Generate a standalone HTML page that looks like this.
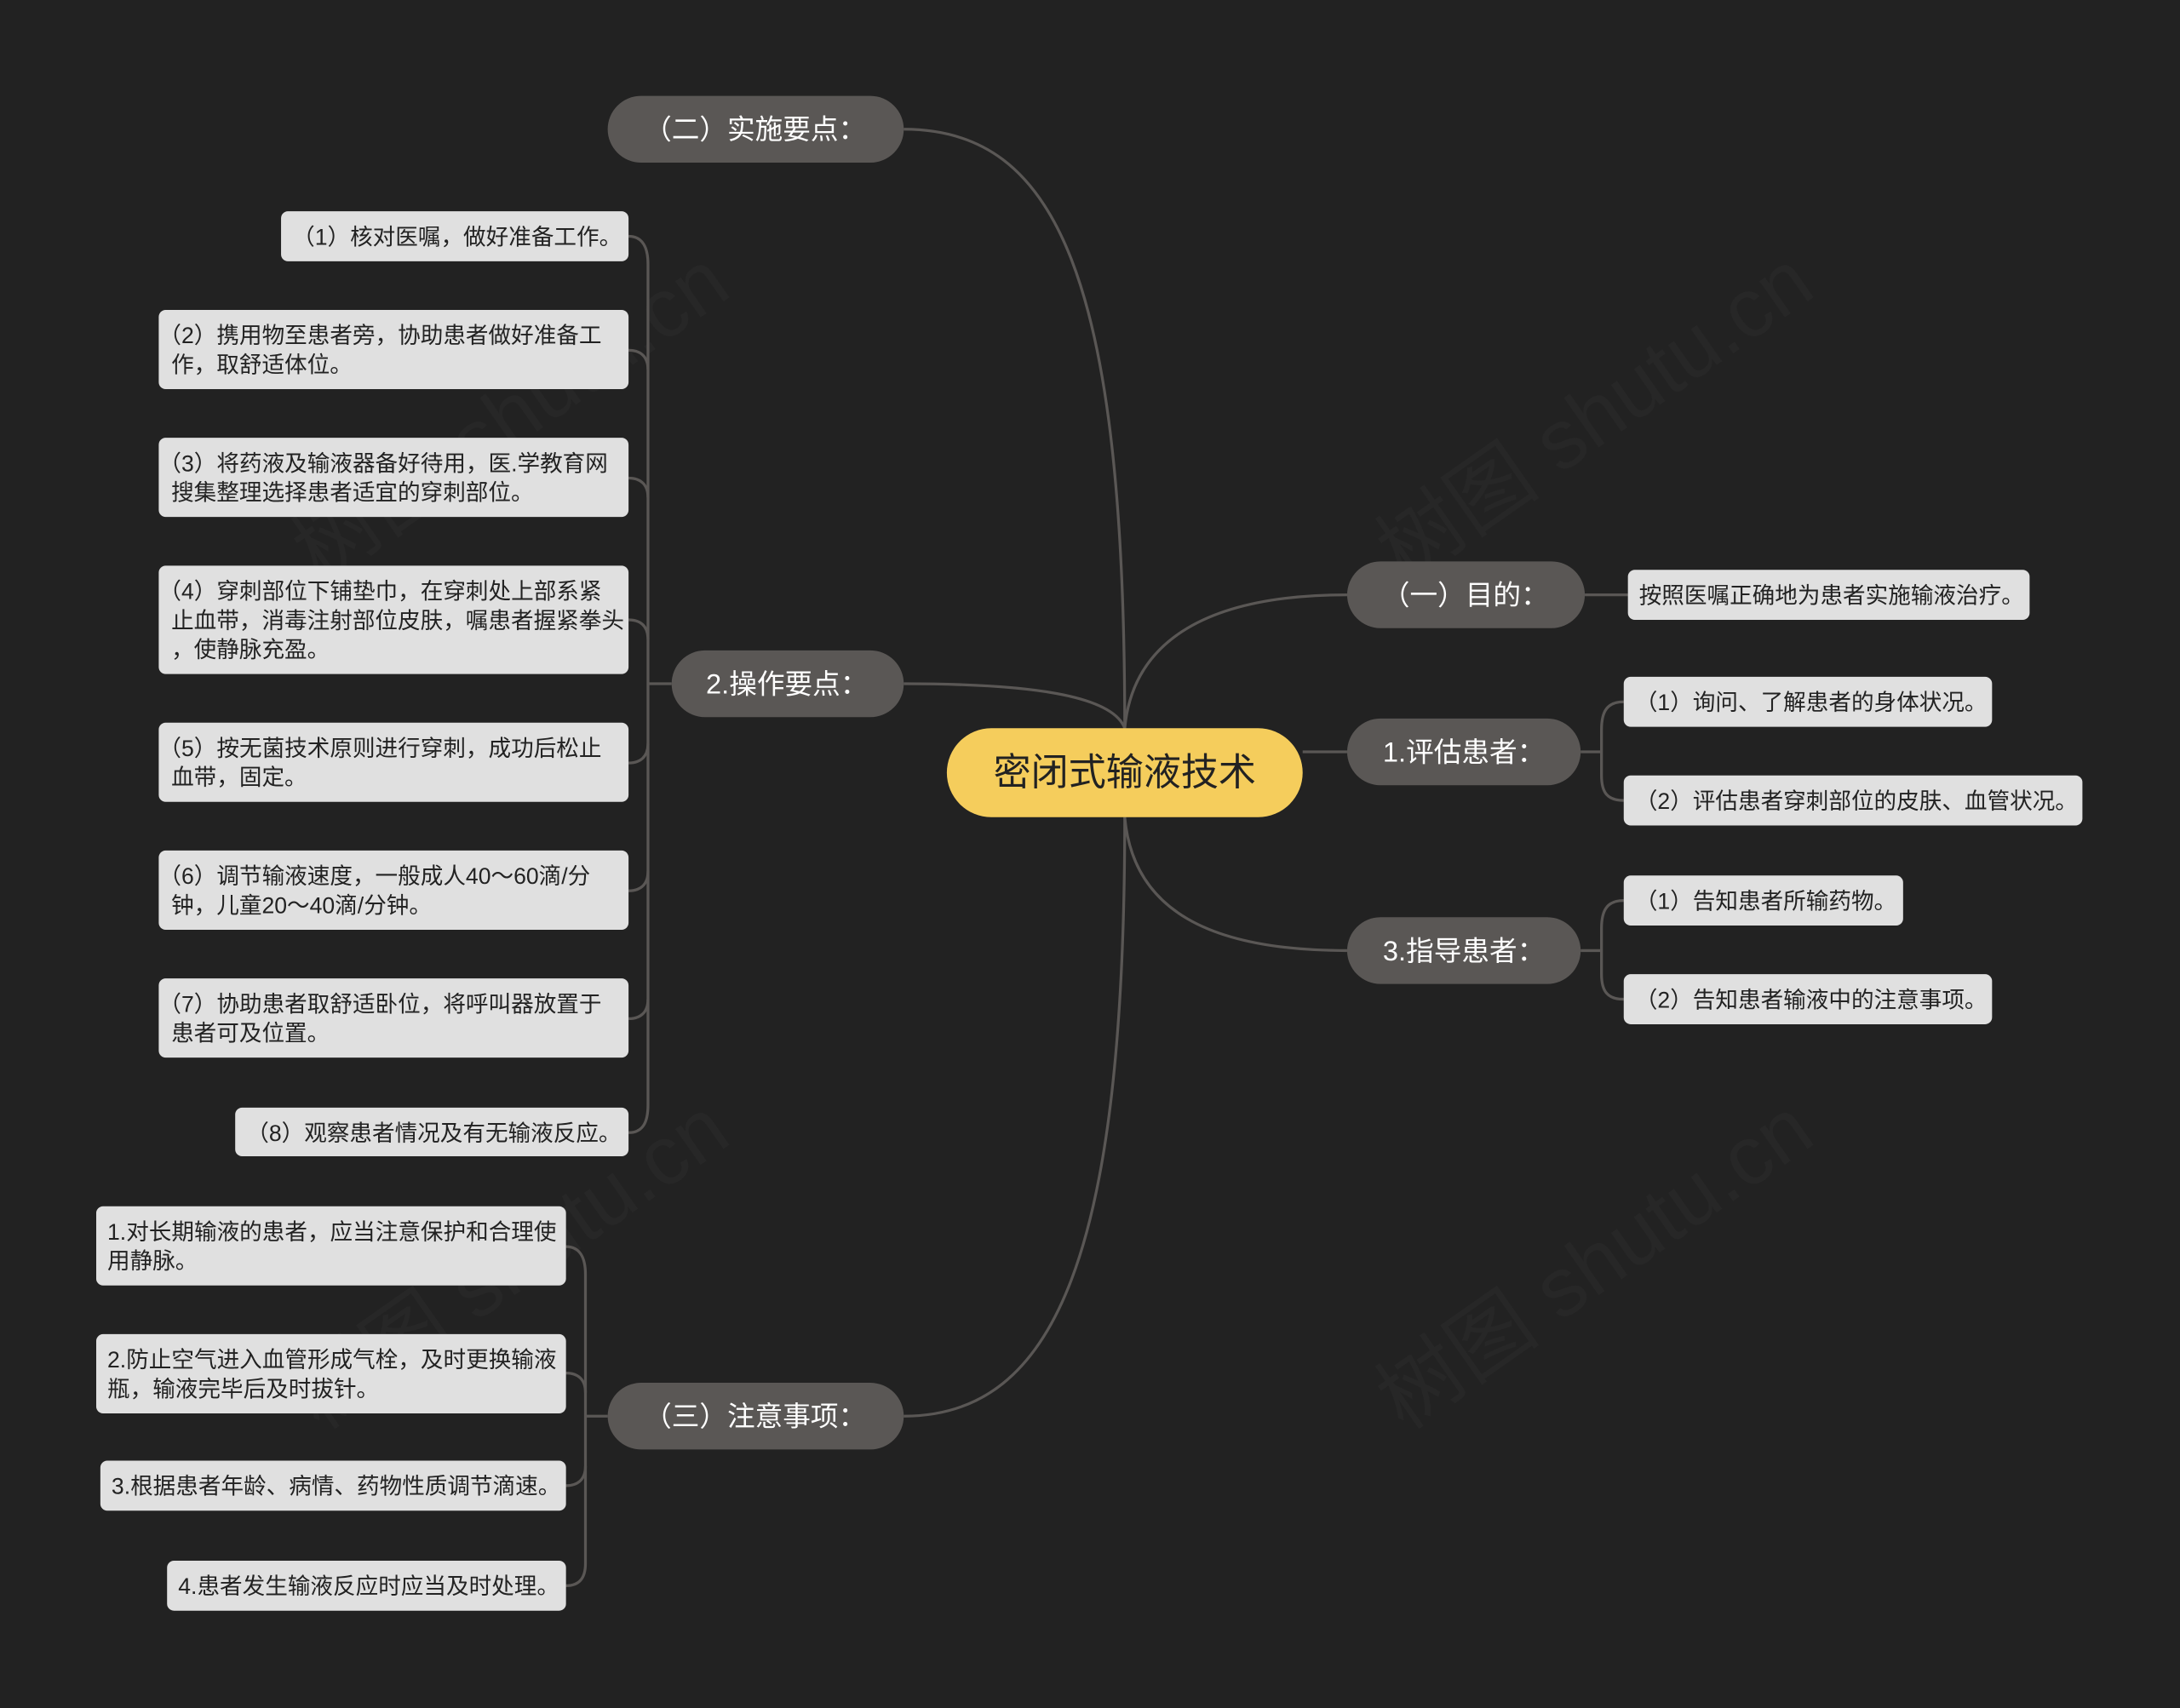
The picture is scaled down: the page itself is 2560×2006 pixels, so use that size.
<!DOCTYPE html>
<html><head><meta charset="utf-8">
<style>
html,body{margin:0;padding:0;background:#222222;}
svg{display:block;}
text{font-family:"Liberation Sans","Noto Sans CJK SC",sans-serif;}
.lf{fill:#e0e0e0;}
.lt{font-size:16.3px;fill:#222;}
.n1{fill:#5a5755;}
.t1{font-size:20px;fill:#fff;}
.ln{fill:none;stroke:#5a5755;stroke-width:2;}
</style></head><body>
<svg width="2560" height="2006" viewBox="0 0 1568 1229" xmlns="http://www.w3.org/2000/svg">
<rect x="0" y="0" width="1568" height="1229" fill="#222222"/>
<g fill="#2c2c2c" font-size="60" opacity="0.5">
<text x="230" y="420" transform="rotate(-35 230 420)">树图 shutu.cn</text>
<text x="1010" y="420" transform="rotate(-35 1010 420)">树图 shutu.cn</text>
<text x="230" y="1030" transform="rotate(-35 230 1030)">树图 shutu.cn</text>
<text x="1010" y="1030" transform="rotate(-35 1010 1030)">树图 shutu.cn</text>
</g>
<!-- root connectors -->
<path class="ln" d="M809,524 C809,200 760,93 650,93"/>
<path class="ln" d="M809,524 C800,500 740,492 650,492"/>
<path class="ln" d="M809,524 C815,460 870,428 969,428"/>
<path class="ln" d="M937,541 L969,541"/>
<path class="ln" d="M809,588 C815,655 870,684 969,684"/>
<path class="ln" d="M809,588 C809,900 760,1019 650,1019"/>
<!-- right connectors -->
<path class="ln" d="M1140,428 L1171,428"/>
<path class="ln" d="M1137,541 L1152,541 M1168,505 C1156,505 1152,512 1152,525 L1152,558 C1152,570 1156,576 1168,576"/>
<path class="ln" d="M1137,684 L1152,684 M1168,648 C1156,648 1152,655 1152,668 L1152,701 C1152,713 1156,719 1168,719"/>
<!-- left bracket operations -->
<path class="ln" d="M483,492 L466,492"/>
<path class="ln" d="M452,170 C462,170 466,178 466,190 L466,795 C466,808 462,815 452,815"/>
<path class="ln" d="M452,252 C460,252 466,256 466,266 M452,344 C460,344 466,348 466,358 M452,446 C460,446 466,450 466,460 M452,549 C460,549 466,545 466,535 M452,641 C460,641 466,637 466,627 M452,733 C460,733 466,729 466,719"/>
<!-- left bracket notes -->
<path class="ln" d="M437,1019 L421,1019"/>
<path class="ln" d="M407,897 C417,897 421,905 421,917 L421,1125 C421,1135 417,1141 407,1141"/>
<path class="ln" d="M407,988 C415,988 421,992 421,1002 M407,1069 C415,1069 421,1065 421,1055"/>

<!-- root -->
<rect x="681" y="524" width="256" height="64" rx="32" fill="#f5cd5c"/>
<text x="809" y="565" text-anchor="middle" font-size="27" fill="#222">密闭式输液技术</text>

<!-- level 1 -->
<rect class="n1" x="437" y="69" width="213" height="48" rx="24"/><text class="t1" x="543" y="100" text-anchor="middle">（二）实施要点：</text>
<rect class="n1" x="483" y="468" width="167" height="48" rx="24"/><text class="t1" x="566" y="499" text-anchor="middle">2.操作要点：</text>
<rect class="n1" x="437" y="995" width="213" height="48" rx="24"/><text class="t1" x="543" y="1026" text-anchor="middle">（三）注意事项：</text>
<rect class="n1" x="969" y="404" width="171" height="48" rx="24"/><text class="t1" x="1054" y="435" text-anchor="middle">（一）目的：</text>
<rect class="n1" x="969" y="517" width="168" height="48" rx="24"/><text class="t1" x="1053" y="548" text-anchor="middle">1.评估患者：</text>
<rect class="n1" x="969" y="660" width="168" height="48" rx="24"/><text class="t1" x="1053" y="691" text-anchor="middle">3.指导患者：</text>

<!-- right leaves -->
<rect class="lf" x="1171" y="410" width="289" height="36" rx="5"/><text class="lt" x="1179" y="434">按照医嘱正确地为患者实施输液治疗。</text>
<rect class="lf" x="1168" y="487" width="265" height="36" rx="5"/><text class="lt" x="1176" y="511">（1）询问、了解患者的身体状况。</text>
<rect class="lf" x="1168" y="558" width="330" height="36" rx="5"/><text class="lt" x="1176" y="582">（2）评估患者穿刺部位的皮肤、血管状况。</text>
<rect class="lf" x="1168" y="630" width="201" height="36" rx="5"/><text class="lt" x="1176" y="654">（1）告知患者所输药物。</text>
<rect class="lf" x="1168" y="701" width="265" height="36" rx="5"/><text class="lt" x="1176" y="725">（2）告知患者输液中的注意事项。</text>

<!-- operation leaves -->
<rect class="lf" x="202" y="152" width="250" height="36" rx="5"/><text class="lt" x="210" y="176">（1）核对医嘱，做好准备工作。</text>
<rect class="lf" x="114" y="223" width="338" height="57" rx="5"/><text class="lt" x="114" y="247">（2）携用物至患者旁，协助患者做好准备工</text><text class="lt" x="123" y="268">作，取舒适体位。</text>
<rect class="lf" x="114" y="315" width="338" height="57" rx="5"/><text class="lt" x="114" y="339">（3）将药液及输液器备好待用，医.学教育网</text><text class="lt" x="123" y="360">搜集整理选择患者适宜的穿刺部位。</text>
<rect class="lf" x="114" y="407" width="338" height="78" rx="5"/><text class="lt" x="114" y="431">（4）穿刺部位下铺垫巾，在穿刺处上部系紧</text><text class="lt" x="123" y="452">止血带，消毒注射部位皮肤，嘱患者握紧拳头</text><text class="lt" x="123" y="473">，使静脉充盈。</text>
<rect class="lf" x="114" y="520" width="338" height="57" rx="5"/><text class="lt" x="114" y="544">（5）按无菌技术原则进行穿刺，成功后松止</text><text class="lt" x="123" y="565">血带，固定。</text>
<rect class="lf" x="114" y="612" width="338" height="57" rx="5"/><text class="lt" x="114" y="636">（6）调节输液速度，一般成人40～60滴/分</text><text class="lt" x="123" y="657">钟，儿童20～40滴/分钟。</text>
<rect class="lf" x="114" y="704" width="338" height="57" rx="5"/><text class="lt" x="114" y="728">（7）协助患者取舒适卧位，将呼叫器放置于</text><text class="lt" x="123" y="749">患者可及位置。</text>
<rect class="lf" x="169" y="797" width="283" height="35" rx="5"/><text class="lt" x="177" y="821">（8）观察患者情况及有无输液反应。</text>

<!-- notes leaves -->
<rect class="lf" x="69" y="868" width="338" height="57" rx="5"/><text class="lt" x="77" y="892">1.对长期输液的患者，应当注意保护和合理使</text><text class="lt" x="77" y="913">用静脉。</text>
<rect class="lf" x="69" y="960" width="338" height="57" rx="5"/><text class="lt" x="77" y="984">2.防止空气进入血管形成气栓，及时更换输液</text><text class="lt" x="77" y="1005">瓶，输液完毕后及时拔针。</text>
<rect class="lf" x="72" y="1051" width="335" height="36" rx="5"/><text class="lt" x="80" y="1075">3.根据患者年龄、病情、药物性质调节滴速。</text>
<rect class="lf" x="120" y="1123" width="287" height="36" rx="5"/><text class="lt" x="128" y="1147">4.患者发生输液反应时应当及时处理。</text>
</svg>
</body></html>
